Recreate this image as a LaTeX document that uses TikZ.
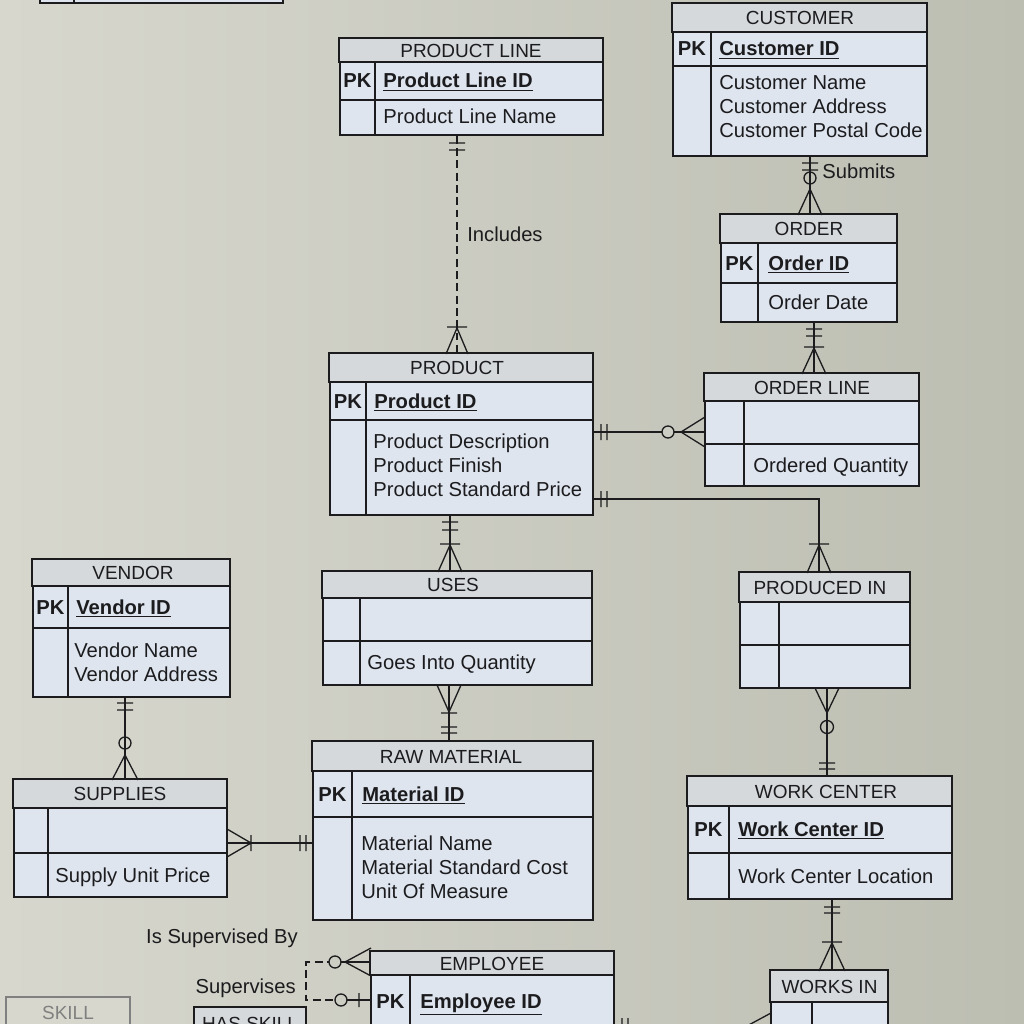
\documentclass[tikz,border=0pt]{standalone}
\usepackage{fontspec}
\setmainfont{Liberation Sans}
\usetikzlibrary{fit}
\definecolor{pageL}{HTML}{D7D7CE}
\definecolor{pageM}{HTML}{CDCEC3}
\definecolor{pageR}{HTML}{BDBEB2}
\definecolor{body}{HTML}{DEE5EF}
\definecolor{band}{HTML}{D5D9DB}
\definecolor{ink}{HTML}{1C1C1E}
\begin{document}
\begin{tikzpicture}[x=0.02cm, y=-0.02cm,
    entity/.style={draw=ink, fill=body, line width=0.9pt, inner sep=0pt},
    band/.style={draw=ink, fill=band, line width=0.9pt},
    sep/.style={draw=ink, line width=0.9pt},
    rel/.style={draw=ink, line width=0.75pt},
    weak/.style={dash pattern=on 4.5pt off 2.5pt},
    ttl/.style={font=\fontsize{10.8}{12}\selectfont, text=ink, inner sep=0pt},
    pk/.style={font=\fontsize{11.5}{13.66}\selectfont\bfseries, anchor=base, inner sep=0pt, text=ink},
    key/.style={font=\fontsize{11.5}{13.66}\selectfont\bfseries, anchor=base west, inner sep=0pt, text=ink},
    attr/.style={font=\fontsize{11.5}{13.66}\selectfont, anchor=base west, align=left, inner sep=0pt, text=ink},
    lbl/.style={font=\fontsize{11.5}{13.66}\selectfont, inner sep=0pt, text=ink}]
        \useasboundingbox (0,0) rectangle (1024,1024);
        \clip (0,0) rectangle (1024,1024);
        % Page
        \fill[left color=pageL, right color=pageR] (0,0) rectangle (1024,1024);

        % Box cut at the top
        \node[entity, fit={(40,-20) (283,3)}] (topbox) {};
        \draw[sep] (74,-20) -- (74,3);

        % Customer (base of a list is its last line)
        \node[entity, fit={(673,4) (927,156)}] (customer) {};
        \draw[band] (customer.north west) rectangle (927,32);
        \draw[sep] (673,66) -- (927,66) (711,32) -- (711,156);
        \node[ttl] (customer-t) at (800,18) {CUSTOMER};
        \node[pk] (customer-pk) at (692,56) {PK};
        \node[key] (customer-id) at (719,56) {\underline{Customer ID}};
        \node[attr] (customer-at) at (719,137) {Customer Name\\Customer Address\\Customer Postal Code};

        % Product line
        \node[entity, fit={(340,39) (603,135)}] (pline) {};
        \draw[band] (pline.north west) rectangle (603,62);
        \draw[sep] (340,100) -- (603,100) (375,62) -- (375,135);
        \node[ttl] (pline-t) at (471,50.5) {PRODUCT LINE};
        \node[pk] (pline-pk) at (357.5,88) {PK};
        \node[key] (pline-id) at (383,88) {\underline{Product Line ID}};
        \node[attr] (pline-at) at (383,124) {Product Line Name};

        % Order
        \node[entity, fit={(721,215) (897,322)}] (order) {};
        \draw[band] (order.north west) rectangle (897,243);
        \draw[sep] (721,283) -- (897,283) (758,243) -- (758,322);
        \node[ttl] (order-t) at (809,229) {ORDER};
        \node[pk] (order-pk) at (739.5,270) {PK};
        \node[key] (order-id) at (768,270) {\underline{Order ID}};
        \node[attr] (order-at) at (768,309) {Order Date};

        % Product
        \node[entity, fit={(330,354) (593,515)}] (product) {};
        \draw[band] (product.north west) rectangle (593,382);
        \draw[sep] (330,420) -- (593,420) (366,382) -- (366,515);
        \node[ttl] (product-t) at (457,368) {PRODUCT};
        \node[pk] (product-pk) at (348,408) {PK};
        \node[key] (product-id) at (374,408) {\underline{Product ID}};
        \node[attr] (product-at) at (373,496) {Product Description\\Product Finish\\Product Standard Price};

        % Order line
        \node[entity, fit={(705,374) (919,486)}] (oline) {};
        \draw[band] (oline.north west) rectangle (919,401);
        \draw[sep] (705,444) -- (919,444) (744,401) -- (744,486);
        \node[ttl] (oline-t) at (812,387.5) {ORDER LINE};
        \node[attr] (oline-at) at (753,472) {Ordered Quantity};

        % Uses
        \node[entity, fit={(323,572) (592,685)}] (uses) {};
        \draw[band] (uses.north west) rectangle (592,598);
        \draw[sep] (323,641) -- (592,641) (360,598) -- (360,685);
        \node[ttl] (uses-t) at (453,585) {USES};
        \node[attr] (uses-at) at (367,669) {Goes Into Quantity};

        % Produced in
        \node[entity, fit={(740,573) (910,688)}] (pin) {};
        \draw[band] (pin.north west) rectangle (910,602);
        \draw[sep] (740,645) -- (910,645) (779,602) -- (779,688);
        \node[ttl] (pin-t) at (820,587.5) {PRODUCED IN};

        % Vendor
        \node[entity, fit={(33,560) (230,697)}] (vendor) {};
        \draw[band] (vendor.north west) rectangle (230,586);
        \draw[sep] (33,628) -- (230,628) (68,586) -- (68,697);
        \node[ttl] (vendor-t) at (133,573) {VENDOR};
        \node[pk] (vendor-pk) at (50.5,614) {PK};
        \node[key] (vendor-id) at (76,614) {\underline{Vendor ID}};
        \node[attr] (vendor-at) at (74,681) {Vendor Name\\Vendor Address};

        % Supplies
        \node[entity, fit={(14,780) (227,897)}] (supplies) {};
        \draw[band] (supplies.north west) rectangle (227,808);
        \draw[sep] (14,853) -- (227,853) (48,808) -- (48,897);
        \node[ttl] (supplies-t) at (120,794) {SUPPLIES};
        \node[attr] (supplies-at) at (55,882) {Supply Unit Price};

        % Raw material
        \node[entity, fit={(313,742) (593,920)}] (rawmat) {};
        \draw[band] (rawmat.north west) rectangle (593,771);
        \draw[sep] (313,817) -- (593,817) (352,771) -- (352,920);
        \node[ttl] (rawmat-t) at (451,756.5) {RAW MATERIAL};
        \node[pk] (rawmat-pk) at (332.5,801) {PK};
        \node[key] (rawmat-id) at (362,801) {\underline{Material ID}};
        \node[attr] (rawmat-at) at (361,898) {Material Name\\Material Standard Cost\\Unit Of Measure};

        % Work center
        \node[entity, fit={(688,777) (952,899)}] (wcenter) {};
        \draw[band] (wcenter.north west) rectangle (952,806);
        \draw[sep] (688,853) -- (952,853) (729,806) -- (729,899);
        \node[ttl] (wcenter-t) at (826,791.5) {WORK CENTER};
        \node[pk] (wcenter-pk) at (708.5,836) {PK};
        \node[key] (wcenter-id) at (738,836) {\underline{Work Center ID}};
        \node[attr] (wcenter-at) at (738,883) {Work Center Location};

        % Works in
        \node[entity, fit={(771,971) (888,1040)}] (worksin) {};
        \draw[band] (worksin.north west) rectangle (888,1002);
        \draw[sep] (812,1002) -- (812,1040);
        \node[ttl] (worksin-t) at (829.5,986.5) {WORKS IN};

        % Employee
        \node[entity, fit={(371,952) (614,1040)}] (employee) {};
        \draw[band] (employee.north west) rectangle (614,975);
        \draw[sep] (410,975) -- (410,1040);
        \node[ttl] (employee-t) at (492,964) {EMPLOYEE};
        \node[pk] (employee-pk) at (390.5,1008) {PK};
        \node[key] (employee-id) at (420,1008) {\underline{Employee ID}};

        % Skill and Has skill
        \node[entity, draw=gray, fill=pageL, fit={(6,997) (130,1040)}] (skill) {};
        \node[ttl, text=gray] (skill-t) at (68,1013) {SKILL};
        \node[entity, fill=band, fit={(194,1007) (306,1040)}] (hasskill) {};
        \node[ttl] (hasskill-t) at (250,1024) {HAS SKILL};

        % Includes
        \draw[rel, weak] (pline.south -| 457,0) -- (product.north -| 457,0);
        \draw[rel] (449,143) -- (465,143) (449,150) -- (465,150) (447,327) -- (467,327)
            (446,354) -- (457,328) -- (468,354);
        \node[lbl, anchor=west] (includes) at (467,234) {Includes};

        % Submits
        \draw[rel] (customer.south -| 810,0) -- (order.north -| 810,0);
        \draw[rel] (802,163) -- (818,163) (802,170) -- (818,170) (798,215) -- (810,189) -- (822,215);
        \draw[rel] (810,178) circle (0.12cm);
        \node[lbl, anchor=west] (submits) at (822,171) {Submits};

        % Order to order line
        \draw[rel] (order.south -| 814,0) -- (oline.north -| 814,0);
        \draw[rel] (806,329) -- (822,329) (806,336) -- (822,336) (804,347) -- (824,347)
            (802,374) -- (814,348) -- (826,374);

        % Product to order line
        \draw[rel] (product.east |- 0,432) -- (oline.west |- 0,432);
        \draw[rel] (601,424) -- (601,440) (607,424) -- (607,440) (705,417) -- (681,432) -- (705,447);
        \draw[rel, fill=pageM] (668,432) circle (0.12cm);

        % Product to produced in
        \draw[rel] (product.east |- 0,499) -| (pin.north -| 819,0);
        \draw[rel] (601,491) -- (601,507) (607,491) -- (607,507) (809,544) -- (829,544)
            (807,573) -- (819,545) -- (831,573);

        % Product to uses
        \draw[rel] (product.south -| 450,0) -- (uses.north -| 450,0);
        \draw[rel] (442,522) -- (458,522) (442,530) -- (458,530) (440,544) -- (460,544)
            (438,572) -- (450,545) -- (462,572);

        % Uses to raw material
        \draw[rel] (uses.south -| 449,0) -- (rawmat.north -| 449,0);
        \draw[rel] (437,685) -- (449,712) -- (461,685) (441,713) -- (457,713)
            (441,727) -- (457,727) (441,733) -- (457,733);

        % Vendor to supplies
        \draw[rel] (vendor.south -| 125,0) -- (supplies.north -| 125,0);
        \draw[rel] (117,703) -- (133,703) (117,710) -- (133,710) (112,780) -- (125,755) -- (138,780);
        \draw[rel] (125,743) circle (0.12cm);

        % Supplies to raw material
        \draw[rel] (supplies.east |- 0,843) -- (rawmat.west |- 0,843);
        \draw[rel] (227,829) -- (251,843) -- (227,857) (251,835) -- (251,851)
            (300,835) -- (300,851) (306,835) -- (306,851);

        % Produced in to work center
        \draw[rel] (pin.south -| 827,0) -- (wcenter.north -| 827,0);
        \draw[rel] (815,688) -- (827,713) -- (839,688) (819,763) -- (835,763) (819,769) -- (835,769);
        \draw[rel] (827,727) circle (0.13cm);

        % Work center to works in
        \draw[rel] (wcenter.south -| 832,0) -- (worksin.north -| 832,0);
        \draw[rel] (824,907) -- (840,907) (824,913) -- (840,913) (822,942) -- (842,942)
            (819,971) -- (832,943) -- (845,971);

        % Employee supervises employee
        \coordinate (supby) at (335,962);
        \coordinate (sups) at (341,1000);
        \draw[rel] (employee.west |- 0,962) -- (supby);
        \draw[rel, weak] (supby) -| (306,1000) -- (sups);
        \draw[rel] (sups) -- (employee.west |- 0,1000);
        \draw[rel] (371,948) -- (345,962) -- (371,976) (359,993) -- (359,1007);
        \draw[rel, fill=pageM] (supby) circle (0.12cm) (sups) circle (0.12cm);
        \node[lbl] (supby-l) at (222,938) {Is Supervised By};
        \node[lbl, anchor=east] (sups-l) at (296,988) {Supervises};

        % Employee to works in
        \draw[rel] (employee.east |- 0,1027) -- (worksin.west |- 0,1027);
        \draw[rel] (622,1018) -- (622,1036) (628,1018) -- (628,1036) (771,1013) -- (745,1027) -- (771,1041);
    \end{tikzpicture}
\end{document}
